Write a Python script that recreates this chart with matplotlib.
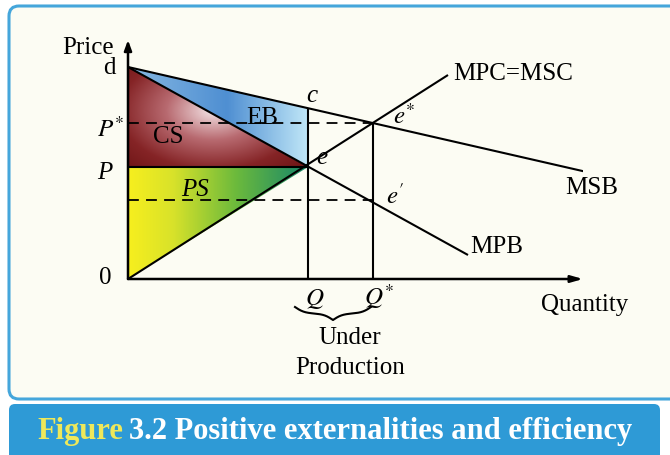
import numpy as np
import matplotlib
matplotlib.use("Agg")
import matplotlib.pyplot as plt
from matplotlib.patches import Polygon, FancyBboxPatch
from matplotlib.colors import LinearSegmentedColormap

# ---- data (schematic units) ----
price_d = 212          # demand intercept "d"
price_star = 156       # P*
price_p = 112          # P
price_prime = 79       # price at e'
q_market = 180         # Q
q_star = 245           # Q*
msb_x = [0, 485]
msb_y = [212, 101]
mpb_x = [0, 340]
mpb_y = [212, 24]
mpc_x = [0, 320]
mpc_y = [0, 204]
x_max = 455
y_max = 239

FONT = "Liberation Serif"
W, H = 670, 455
fig = plt.figure(figsize=(W / 100, H / 100), dpi=100)
fig.patch.set_facecolor("white")

# frame and banner in figure pixel coordinates
bg = fig.add_axes([0, 0, 1, 1])
bg.set_xlim(0, W)
bg.set_ylim(H, 0)
bg.axis("off")
frame = FancyBboxPatch((9, 6), 700, 393, boxstyle="round,pad=0,rounding_size=10",
                       facecolor="#fcfcf3", edgecolor="#45a6db", lw=2.2)
bg.add_patch(frame)
banner = FancyBboxPatch((9, 404), 651, 60, boxstyle="round,pad=0,rounding_size=6",
                        facecolor="#2e9ad6", edgecolor="none")
bg.add_patch(banner)
bfs = 22
t1 = bg.text(37, 431, "Figure", color="#eee85a", fontsize=bfs, fontweight="bold",
             family=FONT, va="center", ha="left")
fig.canvas.draw()
bb = t1.get_window_extent()
bg.text(37 + bb.width + 6, 431, "3.2 Positive externalities and efficiency", color="white",
        fontsize=bfs, fontweight="bold", family=FONT, va="center", ha="left")

# chart axes: origin at pixel (128, 279)
ox, oy = 128, 279
ax = fig.add_axes([ox / W, (H - oy) / H, x_max / W, y_max / H])
ax.set_xlim(0, x_max)
ax.set_ylim(0, y_max)
ax.axis("off")
ax.patch.set_alpha(0)

def line_at(xs, ys, x):
    return np.interp(x, xs, ys)

c_y = line_at(msb_x, msb_y, q_market)
e_y = price_p

def gradient_fill(poly_pts, cmap, mode="h", center=None, radius=1.0):
    poly = Polygon(poly_pts, closed=True, facecolor="none", edgecolor="none")
    ax.add_patch(poly)
    xs = [p[0] for p in poly_pts]
    ys = [p[1] for p in poly_pts]
    x0, x1, y0, y1 = min(xs), max(xs), min(ys), max(ys)
    nx, ny = 300, 200
    gx, gy = np.meshgrid(np.linspace(x0, x1, nx), np.linspace(y0, y1, ny))
    if mode == "h":
        z = (gx - x0) / (x1 - x0)
    else:
        z = np.clip(np.hypot(gx - center[0], (gy - center[1]) * 1.6) / radius, 0, 1)
    im = ax.imshow(z, extent=[x0, x1, y0, y1], origin="lower", cmap=cmap,
                   aspect="auto", interpolation="bilinear", vmin=0, vmax=1, zorder=1)
    im.set_clip_path(poly)

cs_cmap = LinearSegmentedColormap.from_list("cs", ["#f4e4e6", "#b86a70", "#852426", "#661010"])
eb_cmap = LinearSegmentedColormap.from_list("eb", [(0, "#86b8e2"), (0.55, "#4f8fd2"), (1, "#bfe6f7")])
ps_cmap = LinearSegmentedColormap.from_list("ps", [(0, "#f7ef1e"), (0.25, "#d8e22a"), (0.6, "#6cba3c"), (1, "#17876a")])

gradient_fill([(0, price_d), (q_market, e_y), (0, price_p)], cs_cmap, mode="r",
              center=(85, 168), radius=140)
gradient_fill([(0, price_d), (q_market, c_y), (q_market, e_y)], eb_cmap, mode="h")
gradient_fill([(0, 0), (0, price_p), (q_market, e_y)], ps_cmap, mode="h")

lw = 1.5
k = dict(color="black", lw=lw, zorder=3, solid_capstyle="butt")
ax.plot(msb_x, msb_y, **k)
ax.plot(mpb_x, mpb_y, **k)
ax.plot(mpc_x, mpc_y, **k)
ax.plot([0, q_market], [price_p, price_p], **k)
ax.plot([q_market, q_market], [0, c_y], **k)
ax.plot([q_star, q_star], [0, price_star], **k)
ax.plot([0, q_star], [price_star, price_star], color="black", lw=1.3, ls=(0, (6, 4)), zorder=3)
ax.plot([0, q_star], [price_prime, price_prime], color="black", lw=1.3, ls=(0, (6, 4)), zorder=3)

# axes arrows
ax.annotate("", xy=(0, y_max), xytext=(0, 0),
            arrowprops=dict(arrowstyle="-|>,head_length=0.6,head_width=0.22", color="black", lw=1.8, shrinkA=0, shrinkB=0))
ax.annotate("", xy=(x_max, 0), xytext=(0, 0),
            arrowprops=dict(arrowstyle="-|>,head_length=0.7,head_width=0.2", color="black", lw=1.8, shrinkA=0, shrinkB=0))

fs = 18
T = dict(family=FONT, fontsize=fs, color="black", zorder=5, clip_on=False)
M = dict(fontsize=fs, color="black", zorder=5, clip_on=False, math_fontfamily="stix")
ax.text(-14, 231, "Price", ha="right", va="center", **T)
ax.text(-12, price_d - 1, "d", ha="right", va="center", **T)
ax.text(-3, price_star - 6, r"$P^{*}$", ha="right", va="center", **M)
ax.text(-16, price_p - 6, "P", ha="right", va="center", style="italic", **T)
ax.text(-17, 1, "0", ha="right", va="center", **T)
ax.text(40, 142, "CS", ha="center", va="center", **T)
ax.text(134, 161, "EB", ha="center", va="center", **T)
ax.text(67, 89, "PS", ha="center", va="center", style="italic", **T)
ax.text(q_market + 4, c_y + 12, "c", ha="center", va="center", style="italic", **T)
ax.text(q_market + 14, e_y + 9, "e", ha="center", va="center", style="italic", **T)
ax.text(q_star + 31, price_star + 7, r"$e^{*}$", ha="center", va="center", **M)
ax.text(q_star + 22, price_prime + 4, r"$e^{\prime}$", ha="center", va="center", **M)
ax.text(mpc_x[1] + 5, mpc_y[1] + 1, "MPC=MSC", ha="left", va="center", **T)
ax.text(msb_x[1] - 48, msb_y[1] - 10, "MSB", ha="left", va="center", **T)
ax.text(mpb_x[1] + 2, mpb_y[1] + 8, "MPB", ha="left", va="center", **T)
ax.text(q_market + 7, -20, r"$Q$", ha="center", va="center", **M)
ax.text(q_star + 6, -18, r"$Q^{*}$", ha="center", va="center", **M)
ax.text(x_max + 2, -26, "Quantity", ha="center", va="center", **T)
ax.text(222, -59, "Under", ha="center", va="center", **T)
ax.text(222, -89, "Production", ha="center", va="center", **T)

# curly brace under Q and Q*
xb0, xb1 = q_market - 13, q_star - 2
width = xb1 - xb0
beta = 1200.0 / width
n = 200
xh = np.linspace(0, 0.5, n // 2 + 1)
yh = 1 / (1 + np.exp(-beta * (xh - xh[0]))) + 1 / (1 + np.exp(-beta * (xh - xh[-1])))
yb = np.concatenate((yh, yh[-2::-1]))
yb = (yb - yb.min()) / (yb.max() - yb.min())
bx = xb0 + np.linspace(0, 1, len(yb)) * width
by = -28 - 13 * yb
ax.plot(bx, by, color="black", lw=1.5, clip_on=False)

fig.savefig("out.png", dpi=100, facecolor="white")
